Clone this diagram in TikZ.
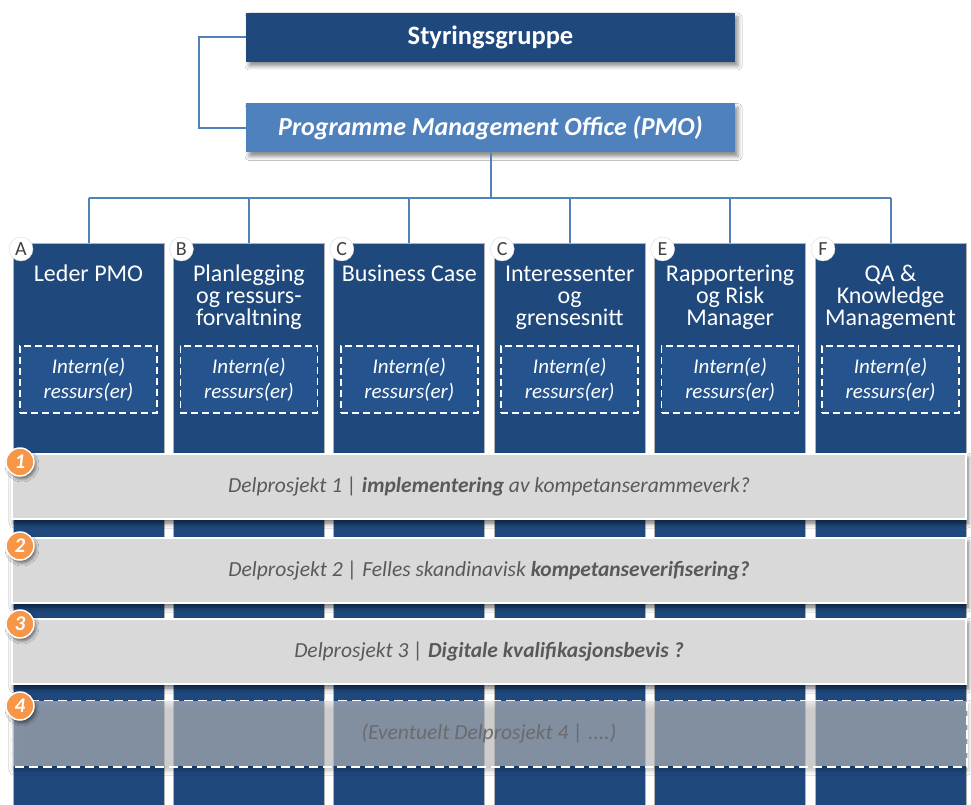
\documentclass[tikz,border=0pt]{standalone}
\usepackage{fontspec}
\setmainfont{Carlito}
\usetikzlibrary{shadows.blur}
\definecolor{dblue}{HTML}{1F497D}
\definecolor{mblue}{HTML}{4F81BD}
\definecolor{iblue}{HTML}{25538E}
\definecolor{bandgray}{HTML}{D9D9D9}
\definecolor{txtgray}{HTML}{595959}
\definecolor{orng}{HTML}{F79646}
\tikzset{
  topbox/.style={minimum width=489pt, minimum height=49pt, inner sep=0pt, text=white,
    blur shadow={shadow xshift=3pt, shadow yshift=-4pt, shadow blur radius=4pt, shadow opacity=45}},
  conn/.style={draw=mblue, line width=2pt},
  colbox/.style={draw=black!30, line width=1pt, fill=dblue, minimum width=151pt,
    minimum height=580pt, inner sep=0pt, anchor=north},
  coltitle/.style={anchor=north, inner sep=0pt, text=white, align=center,
    font=\fontsize{24}{22}\selectfont},
  inbox/.style={draw=white, dash pattern=on 7pt off 4pt, line width=1.5pt, fill=iblue,
    minimum width=137pt, minimum height=67pt, inner sep=0pt, text=white, align=center,
    font=\itshape\fontsize{21}{25}\selectfont},
  letc/.style={circle, fill=white, draw=black!15, minimum size=24pt, inner sep=0pt,
    text=black!75, font=\fontsize{20}{20}\selectfont},
  band/.style={draw=white, line width=1.5pt, fill=bandgray, minimum width=954pt,
    minimum height=65pt, inner sep=0pt, text=txtgray, font=\itshape\fontsize{21.5}{24}\selectfont,
    blur shadow={shadow xshift=2pt, shadow yshift=-4pt, shadow blur radius=5pt, shadow opacity=60}},
  numc/.style={circle, fill=orng, draw=white, line width=1.5pt, minimum size=28pt, inner sep=0pt,
    text=white, font=\bfseries\itshape\fontsize{21}{21}\selectfont,
    blur shadow={shadow xshift=2pt, shadow yshift=-3pt, shadow blur radius=3pt, shadow opacity=50}}
}
\newcommand{\fstrut}{\rule{0pt}{18pt}}
\begin{document}
\begin{tikzpicture}[x=1pt,y=-1pt]
\useasboundingbox (0,0) rectangle (971,805);
\fill[white] (0,0) rectangle (971,805);
\clip (0,0) rectangle (971,805);

% top boxes
\node[topbox, fill=dblue, font=\bfseries\fontsize{26.5}{28}\selectfont] (styr) at (490.5,37.5) {Styringsgruppe};
\node[topbox, fill=mblue, font=\bfseries\itshape\fontsize{26}{28}\selectfont] (pmo) at (490.5,128) {Programme Management Office (PMO)};

% connectors
\coordinate (lbend) at (199,37.5);
\draw[conn] (styr.west) -- (lbend) |- (pmo.west);
\coordinate (bus) at (490.5,198);
\draw[conn] (pmo.south) -- (bus);

% columns
\node[colbox] (cA) at (88.5,243) {};
\node[colbox] (cB) at (248.9,243) {};
\node[colbox] (cC) at (409.3,243) {};
\node[colbox] (cD) at (569.7,243) {};
\node[colbox] (cE) at (730.1,243) {};
\node[colbox] (cF) at (890.5,243) {};

\draw[conn] (cA.north |- bus) -- (cF.north |- bus);
\foreach \c in {cA,cB,cC,cD,cE,cF}{
  \draw[conn] (\c.north |- bus) -- (\c.north);
}

% titles
\node[coltitle] (tA) at (88.5,263) {\fstrut Leder PMO};
\node[coltitle] (tB) at (248.9,263) {\fstrut Planlegging\\og ressurs-\\forvaltning};
\node[coltitle] (tC) at (409.3,263) {\fstrut Business Case};
\node[coltitle] (tD) at (569.7,263) {\fstrut Interessenter\\og\\grensesnitt};
\node[coltitle] (tE) at (730.1,263) {\fstrut Rapportering\\og Risk\\Manager};
\node[coltitle] (tF) at (890.5,263) {\fstrut QA \&\\Knowledge\\Management};

% inner dashed boxes
\foreach \c/\x in {A/88.5,B/248.9,C/409.3,D/569.7,E/730.1,F/890.5}{
  \node[inbox] (i\c) at (\x,379.5) {Intern(e)\\ressurs(er)};
}

% letter circles
\node[letc] (lA) at (21,249) {A};
\node[letc] (lB) at (181.4,249) {B};
\node[letc] (lC) at (341.8,249) {C};
\node[letc] (lD) at (502.2,249) {C};
\node[letc] (lE) at (662.6,249) {E};
\node[letc] (lF) at (823,249) {F};

% bands
\node[band] (b1) at (489,486.5) {Delprosjekt 1 | \textbf{implementering} av kompetanserammeverk?};
\node[band] (b2) at (489,570.5) {Delprosjekt 2 | Felles skandinavisk \textbf{kompetanseverifisering?}};
\node[band] (b3) at (489,651.5) {Delprosjekt 3 | \textbf{Digitale kvalifikasjonsbevis ?}};
\node[band, draw=none, fill opacity=0.55, text opacity=1, text=black!58,
  blur shadow={shadow xshift=2pt, shadow yshift=-4pt, shadow blur radius=5pt, shadow opacity=25}]
  (b4) at (489,733.5) {(Eventuelt Delprosjekt 4 | ....)};
\draw[white, line width=1.5pt, dash pattern=on 9pt off 5pt] (b4.north west) rectangle (b4.south east);

% number circles
\node[numc] (n1) at (20,462) {1};
\node[numc] (n2) at (20,546) {2};
\node[numc] (n3) at (20,624) {3};
\node[numc] (n4) at (20,706) {4};
\end{tikzpicture}
\end{document}
